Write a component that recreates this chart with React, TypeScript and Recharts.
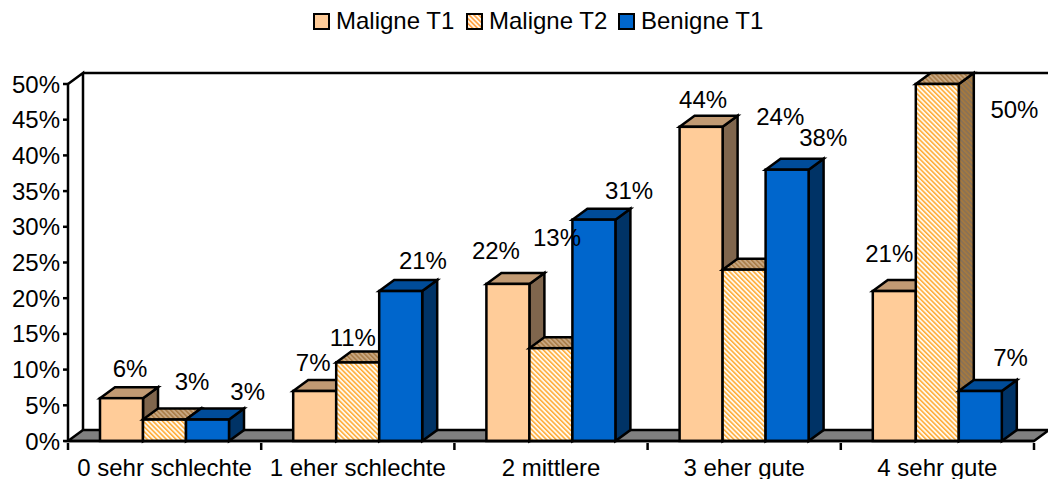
import { Bar, ComposedChart, LabelList, Legend, Line, ReferenceArea, XAxis, YAxis } from "recharts"

const categories = ["0 sehr schlechte", "1 eher schlechte", "2 mittlere", "3 eher gute", "4 sehr gute"]
const malignT1 = [6, 7, 22, 44, 21]
const malignT2 = [3, 11, 13, 24, 50]
const benignT1 = [3, 21, 31, 38, 7]
const yTicks = [0, 5, 10, 15, 20, 25, 30, 35, 40, 45, 50]

const chartData = categories.map((name, i) => ({
  name,
  malignT1: malignT1[i],
  malignT2: malignT2[i],
  benignT1: benignT1[i],
}))

const FONT = "'Liberation Sans', Arial, sans-serif"
const FONT_SIZE = 24
const LINE_W = 2.5
const DEPTH_X = 15
const DEPTH_Y = 11
const BAND = 193.2
const BAR_W = 43.1

// label placement in the original is hand-moved, so each one has its own nudge
const labelNudge = {
  malignT1: { slot: -1, dx: [8.5, -1.5, -12, 2, -5], dy: [-30, -29, -33, -27, -38] },
  malignT2: { slot: 0, dx: [27.5, -5, 6, 36, 77], dy: [-38, -25, -111, -153, 25] },
  benignT1: { slot: 1, dx: [40, 22, 35, 36, 30], dy: [-28, -31, -29, -32, -34] },
}

function Box3D(props: any) {
  const { x, y, width, height, front, top, side } = props
  const r = x + width
  const b = y + height
  return (
    <g stroke="#000" strokeWidth={LINE_W} strokeLinejoin="miter">
      <polygon points={`${r},${y} ${r + DEPTH_X},${y - DEPTH_Y} ${r + DEPTH_X},${b - DEPTH_Y} ${r},${b}`} fill={side} />
      <polygon points={`${x},${y} ${x + DEPTH_X},${y - DEPTH_Y} ${r + DEPTH_X},${y - DEPTH_Y} ${r},${y}`} fill={top} />
      <rect x={x} y={y} width={width} height={height} fill={front} />
    </g>
  )
}

function Walls(props: any) {
  const { x, y, width, height } = props
  const r = x + width
  const b = y + height
  return (
    <g stroke="#000" strokeWidth={LINE_W} fill="none">
      <polygon
        points={`${x},${b} ${x + DEPTH_X},${b - DEPTH_Y} ${r + DEPTH_X},${b - DEPTH_Y} ${r},${b}`}
        fill="#808080"
      />
      <polyline points={`${x},${y} ${x + DEPTH_X},${y - DEPTH_Y} ${x + DEPTH_X},${b - DEPTH_Y}`} />
      <line x1={x + DEPTH_X} y1={y - DEPTH_Y} x2={1048} y2={y - DEPTH_Y} />
    </g>
  )
}

function CategoryTick(props: any) {
  const { x, y, index, payload } = props
  const left = x - BAND / 2
  return (
    <g>
      <line x1={left} y1={y} x2={left} y2={y + 7} stroke="#000" strokeWidth={LINE_W} />
      {index === categories.length - 1 && (
        <line x1={left + BAND} y1={y} x2={left + BAND} y2={y + 7} stroke="#000" strokeWidth={LINE_W} />
      )}
      <text x={x} y={y + 33} textAnchor="middle" fontFamily={FONT} fontSize={FONT_SIZE} fill="#000">
        {payload.value}
      </text>
    </g>
  )
}

function makeLabel(key: keyof typeof labelNudge) {
  const nudge = labelNudge[key]
  return (props: any) => {
    const { x, y, value, index } = props
    return (
      <text
        x={x + nudge.slot * BAR_W + nudge.dx[index]}
        y={y + nudge.dy[index]}
        textAnchor="middle"
        dominantBaseline="central"
        fontFamily={FONT}
        fontSize={FONT_SIZE}
        fill="#000"
      >
        {value}%
      </text>
    )
  }
}

const legendItems = [
  { label: "Maligne T1", fill: "#FFCC99", left: 313 },
  { label: "Maligne T2", fill: "url(#hatchLegend)", left: 466 },
  { label: "Benigne T1", fill: "#0066CC", left: 618 },
]

function ChartLegend() {
  return (
    <div style={{ position: "relative", width: 1048, height: 40, fontFamily: FONT, fontSize: FONT_SIZE, color: "#000" }}>
      {legendItems.map((item) => (
        <div key={item.label} style={{ position: "absolute", left: item.left, top: 8, display: "flex", alignItems: "center", lineHeight: "26px", whiteSpace: "nowrap" }}>
          <svg width={17} height={17} style={{ display: "block" }}>
            <defs>
              <pattern id="hatchLegend" width={3.4} height={3.4} patternUnits="userSpaceOnUse" patternTransform="rotate(-45)">
                <rect width={3.4} height={3.4} fill="#FFF8EC" />
                <rect width={1.5} height={3.4} fill="#FF9933" />
              </pattern>
            </defs>
            <rect x={1} y={1} width={15} height={15} fill={item.fill} stroke="#000" strokeWidth={2} />
          </svg>
          <span style={{ marginLeft: 6 }}>{item.label}</span>
        </div>
      ))}
    </div>
  )
}

function hatch(id: string, bg: string, stripe: string) {
  return (
    <pattern id={id} width={3.4} height={3.4} patternUnits="userSpaceOnUse" patternTransform="rotate(-45)">
      <rect width={3.4} height={3.4} fill={bg} />
      <rect width={1.5} height={3.4} fill={stripe} />
    </pattern>
  )
}

export default function App() {
  return (
    <div style={{ position: "absolute", left: 0, top: 0, width: 1048, height: 479, background: "#fff" }}>
      <ComposedChart
        width={1048}
        height={479}
        data={chartData}
        margin={{ top: 44, right: 14, bottom: 0, left: 0 }}
        barCategoryGap={32}
        barGap={0}
      >
        <defs>
          {hatch("hatchFront", "#FFF8EC", "#FFAA33")}
          {hatch("hatchTop", "#C9A882", "#A87A44")}
          {hatch("hatchSide", "#8A7256", "#A87A3C")}
        </defs>
        <Legend verticalAlign="top" align="left" wrapperStyle={{ left: 0, top: 0, width: 1048 }} content={<ChartLegend />} />
        <XAxis
          dataKey="name"
          height={38}
          interval={0}
          axisLine={{ stroke: "#000", strokeWidth: LINE_W }}
          tickLine={false}
          tickSize={0}
          tick={<CategoryTick />}
        />
        <YAxis
          width={68}
          domain={[0, 50]}
          ticks={yTicks}
          interval={0}
          tickFormatter={(v: number) => `${v}%`}
          axisLine={{ stroke: "#000", strokeWidth: LINE_W }}
          tickLine={{ stroke: "#000", strokeWidth: LINE_W }}
          tickSize={5}
          tickMargin={3}
          tick={{ fill: "#000", fontFamily: FONT, fontSize: FONT_SIZE }}
        />
        <ReferenceArea y1={0} y2={50} ifOverflow="visible" shape={<Walls />} />
        <Bar dataKey="malignT1" isAnimationActive={false} shape={<Box3D front="#FFCC99" top="#C19A73" side="#80664D" />} />
        <Bar dataKey="malignT2" isAnimationActive={false} shape={<Box3D front="url(#hatchFront)" top="url(#hatchTop)" side="url(#hatchSide)" />} />
        <Bar dataKey="benignT1" isAnimationActive={false} shape={<Box3D front="#0066CC" top="#004C99" side="#003366" />} />
        <Line dataKey="malignT1" stroke="none" dot={false} legendType="none" isAnimationActive={false}>
          <LabelList dataKey="malignT1" content={makeLabel("malignT1")} />
        </Line>
        <Line dataKey="malignT2" stroke="none" dot={false} legendType="none" isAnimationActive={false}>
          <LabelList dataKey="malignT2" content={makeLabel("malignT2")} />
        </Line>
        <Line dataKey="benignT1" stroke="none" dot={false} legendType="none" isAnimationActive={false}>
          <LabelList dataKey="benignT1" content={makeLabel("benignT1")} />
        </Line>
      </ComposedChart>
    </div>
  )
}
